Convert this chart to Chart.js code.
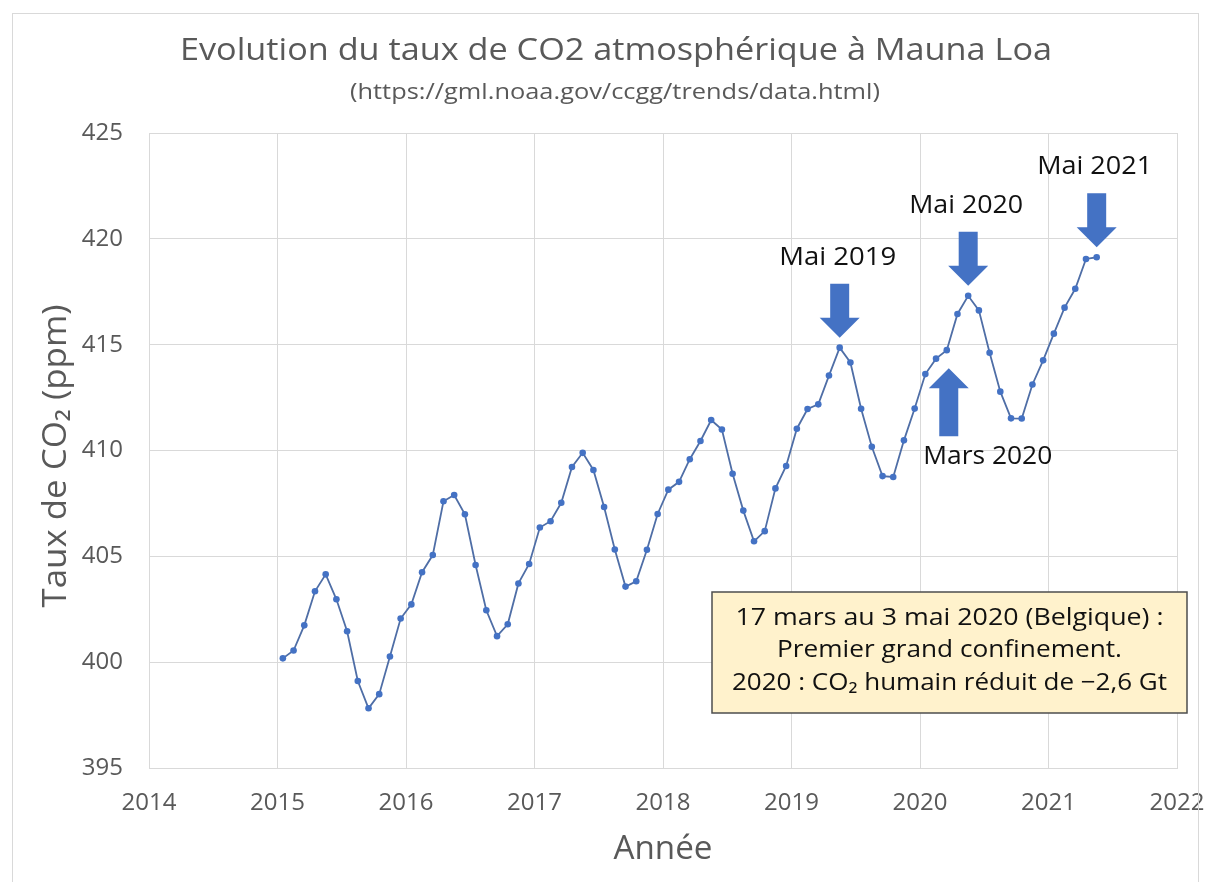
<!DOCTYPE html>
<html>
<head>
<meta charset="utf-8">
<script src="https://cdn.jsdelivr.net/npm/chart.js@4/dist/chart.umd.min.js"></script>
<style>
  html, body { margin: 0; padding: 0; background: #ffffff; }
  #wrap { width: 1209px; height: 882px; position: relative; }
  canvas { display: block; }
</style>
</head>
<body>
<div id="wrap"><canvas id="c" width="1209" height="882"></canvas></div>
<script>
// Monthly mean CO2 at Mauna Loa (ppm), January to December of each year
const co2_2015 = [400.18, 400.55, 401.74, 403.35, 404.15, 402.97, 401.46, 399.11, 397.82, 398.49, 400.27, 402.06];
const co2_2016 = [402.73, 404.25, 405.06, 407.60, 407.90, 406.99, 404.59, 402.45, 401.23, 401.79, 403.72, 404.64];
const co2_2017 = [406.36, 406.66, 407.53, 409.22, 409.89, 409.08, 407.33, 405.32, 403.57, 403.82, 405.31, 407.00];
const co2_2018 = [408.15, 408.52, 409.59, 410.45, 411.44, 410.99, 408.90, 407.16, 405.71, 406.19, 408.21, 409.27];
const co2_2019 = [411.03, 411.96, 412.18, 413.54, 414.86, 414.16, 411.97, 410.18, 408.79, 408.75, 410.48, 411.98];
const co2_2020 = [413.61, 414.34, 414.74, 416.45, 417.31, 416.62, 414.62, 412.78, 411.52, 411.51, 413.12, 414.26];
const co2_2021 = [415.52, 416.75, 417.64, 419.05, 419.13];

const years = [2015, 2016, 2017, 2018, 2019, 2020, 2021];
const seriesByYear = [co2_2015, co2_2016, co2_2017, co2_2018, co2_2019, co2_2020, co2_2021];

// Axis ranges
const xMin = 2014, xMax = 2022, xStep = 1;
const yMin = 395, yMax = 425, yStep = 5;

// Highlighted months: [label, year, month (1-12), arrow direction]
const marks = [
  ['Mai 2019', 2019, 5, 'down'],
  ['Mai 2020', 2020, 5, 'down'],
  ['Mai 2021', 2021, 5, 'down'],
  ['Mars 2020', 2020, 3, 'up']
];

const boxLines = [
  '17 mars au 3 mai 2020 (Belgique) :',
  'Premier grand confinement.',
  '2020 : CO\u2082 humain réduit de \u22122,6 Gt'
];

// Place each monthly value at the middle of its month on a decimal-year axis
function monthPos(year, month) { return year + (month - 0.5) / 12; }

const points = [];
years.forEach((yr, i) => {
  seriesByYear[i].forEach((v, m) => points.push({ x: monthPos(yr, m + 1), y: v }));
});

function valueAt(year, month) {
  return seriesByYear[years.indexOf(year)][month - 1];
}

const GREY = '#595959';
const BLUE = '#4472C4';
const INK = '#111111';

// Draw centred text, optionally stretched horizontally to a given width
function fitText(ctx, text, cx, cy, font, targetW, color) {
  ctx.save();
  ctx.font = font;
  ctx.fillStyle = color;
  ctx.textAlign = 'center';
  ctx.textBaseline = 'middle';
  const w = ctx.measureText(text).width;
  const k = targetW ? targetW / w : 1;
  ctx.translate(cx, cy);
  ctx.scale(k, 1);
  ctx.fillText(text, 0, 0);
  ctx.restore();
}

function blockArrow(ctx, cx, tipY, dir, len) {
  const shaftW = 19, headW = 40, headL = 20;
  const s = dir === 'down' ? -1 : 1; // direction from tip toward the tail
  const baseY = tipY + s * headL;
  const tailY = tipY + s * len;
  ctx.save();
  ctx.fillStyle = BLUE;
  ctx.beginPath();
  ctx.moveTo(cx, tipY);
  ctx.lineTo(cx + headW / 2, baseY);
  ctx.lineTo(cx + shaftW / 2, baseY);
  ctx.lineTo(cx + shaftW / 2, tailY);
  ctx.lineTo(cx - shaftW / 2, tailY);
  ctx.lineTo(cx - shaftW / 2, baseY);
  ctx.lineTo(cx - headW / 2, baseY);
  ctx.closePath();
  ctx.fill();
  ctx.restore();
  return tailY;
}

const labelWidths = { 'Mai 2019': 117, 'Mai 2020': 114, 'Mai 2021': 115, 'Mars 2020': 129 };

const decorations = {
  id: 'decorations',
  afterDraw(chart) {
    const ctx = chart.ctx;
    const xs = chart.scales.x, ys = chart.scales.y;
    const area = chart.chartArea;

    // outer frame
    ctx.save();
    ctx.strokeStyle = '#d9d9d9';
    ctx.lineWidth = 1;
    ctx.strokeRect(12.5, 13.5, 1186, 880);
    ctx.restore();

    // titles
    fitText(ctx, 'Evolution du taux de CO2 atmosphérique à Mauna Loa', 616, 51,
      '31px "Open Sans"', 872, GREY);
    fitText(ctx, '(https://gml.noaa.gov/ccgg/trends/data.html)', 615, 93,
      '22px "Open Sans"', 530, GREY);

    // axis titles
    fitText(ctx, 'Année', (area.left + area.right) / 2, 850, '33px "Open Sans"', 99, GREY);
    ctx.save();
    ctx.translate(57, 456);
    ctx.rotate(-Math.PI / 2);
    fitText(ctx, 'Taux de CO\u2082 (ppm)', 0, 0, '33px "Open Sans"', 303, GREY);
    ctx.restore();

    // arrows with labels
    marks.forEach(([label, yr, mo, dir]) => {
      const px = xs.getPixelForValue(monthPos(yr, mo));
      const py = ys.getPixelForValue(valueAt(yr, mo));
      if (dir === 'down') {
        const tail = blockArrow(ctx, px, py - 10, 'down', 54);
        fitText(ctx, label, px - 2, tail - 26, '25px "Open Sans"', labelWidths[label], INK);
      } else {
        const tail = blockArrow(ctx, px + 2, py + 18, 'up', 68);
        fitText(ctx, label, px + 41, tail + 21, '25px "Open Sans"', labelWidths[label], INK);
      }
    });

    // note box
    const bx = 712, by = 592, bw = 475, bh = 121;
    ctx.save();
    ctx.fillStyle = '#FFF2CC';
    ctx.fillRect(bx, by, bw, bh);
    ctx.strokeStyle = '#4d4d4d';
    ctx.lineWidth = 1.5;
    ctx.strokeRect(bx, by, bw, bh);
    ctx.restore();
    const boxWidths = [428, 345, 435];
    boxLines.forEach((t, i) => {
      fitText(ctx, t, bx + bw / 2, by + 26 + i * 32.5, '24px "Open Sans"', boxWidths[i], INK);
    });
  }
};

new Chart(document.getElementById('c'), {
  type: 'line',
  data: {
    datasets: [{
      data: points,
      borderColor: '#4f6ea6',
      borderWidth: 1.8,
      backgroundColor: BLUE,
      pointBackgroundColor: BLUE,
      pointBorderColor: BLUE,
      pointRadius: 3.3,
      pointBorderWidth: 0,
      tension: 0,
      fill: false
    }]
  },
  options: {
    responsive: false,
    animation: false,
    events: [],
    layout: { padding: { top: 133, right: 32, bottom: 0, left: 0 } },
    plugins: { legend: { display: false }, tooltip: { enabled: false }, title: { display: false } },
    scales: {
      x: {
        type: 'linear',
        min: xMin, max: xMax,
        afterFit(s) { s.height = 114; s.paddingLeft = 0; s.paddingRight = 0; },
        ticks: {
          stepSize: xStep,
          padding: 21,
          color: GREY,
          font: { family: 'Open Sans', size: 24 },
          callback: v => String(v),
          maxRotation: 0
        },
        grid: { color: '#d9d9d9', drawTicks: false },
        border: { color: '#d9d9d9' }
      },
      y: {
        min: yMin, max: yMax,
        afterFit(s) { s.width = 149; s.paddingTop = 0; s.paddingBottom = 0; },
        ticks: {
          stepSize: yStep,
          padding: 26,
          color: GREY,
          font: { family: 'Open Sans', size: 24 },
          callback: v => String(v)
        },
        grid: { color: '#d9d9d9', drawTicks: false },
        border: { display: false }
      }
    }
  },
  plugins: [decorations]
});
</script>
</body>
</html>
